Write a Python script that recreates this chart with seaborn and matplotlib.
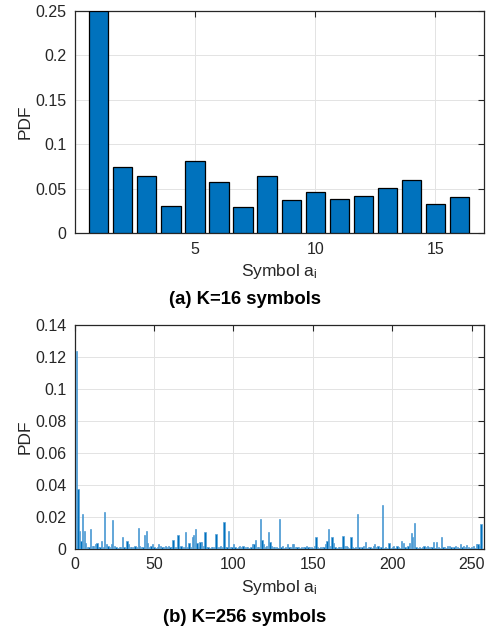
import numpy as np
import pandas as pd
import seaborn as sns
import matplotlib.pyplot as plt
from matplotlib.ticker import FuncFormatter

## data
sym16 = list(range(1, 17))
pdf16 = [0.25, 0.0741, 0.0644, 0.0303, 0.0808, 0.058, 0.0296, 0.064,
         0.0378, 0.0464, 0.0382, 0.0419, 0.0509, 0.0595, 0.0326, 0.0408]

sym256 = list(range(1, 257))
pdf256 = [
    0.124, 0.0375, 0.011, 0.005, 0.022, 0.011, 0.004, 0.001, 0.0015, 0.0125, 0.002, 0.002, 0.003, 0.004, 0.001, 0.0015,
    0.005, 0.001, 0.0233, 0.003, 0.002, 0.0015, 0.003, 0.0183, 0.002, 0.001, 0.0005, 0.001, 0.0015, 0.0073, 0.001, 0.0005,
    0.0048, 0.003, 0.001, 0.0015, 0.001, 0.002, 0.001, 0.0134, 0.002, 0.001, 0.0015, 0.0087, 0.0113, 0.004, 0.001, 0.002,
    0.003, 0.001, 0.0005, 0.001, 0.003, 0.002, 0.001, 0.0015, 0.002, 0.0015, 0.002, 0.001, 0.0015, 0.0058, 0.001, 0.0015,
    0.009, 0.001, 0.002, 0.0015, 0.001, 0.0108, 0.001, 0.004, 0.0015, 0.0077, 0.009, 0.0126, 0.004, 0.0015, 0.0045, 0.0045,
    0.002, 0.0104, 0.001, 0.001, 0.0005, 0.001, 0.0015, 0.001, 0.0092, 0.001, 0.0015, 0.002, 0.001, 0.0168, 0.001, 0.0015,
    0.011, 0.001, 0.0015, 0.003, 0.001, 0.0005, 0.001, 0.002, 0.001, 0.002, 0.001, 0.0015, 0.001, 0.0005, 0.001, 0.003,
    0.003, 0.0055, 0.001, 0.0015, 0.0185, 0.0056, 0.003, 0.0015, 0.002, 0.0106, 0.0046, 0.002, 0.001, 0.0015, 0.001, 0.0005,
    0.019, 0.001, 0.002, 0.0005, 0.001, 0.003, 0.001, 0.0015, 0.003, 0.003, 0.0015, 0.001, 0.001, 0.0005, 0.001, 0.001,
    0.001, 0.002, 0.001, 0.0015, 0.001, 0.0005, 0.002, 0.0077, 0.001, 0.0005, 0.001, 0.0015, 0.001, 0.003, 0.0052, 0.0123,
    0.002, 0.0077, 0.004, 0.001, 0.0005, 0.001, 0.0015, 0.001, 0.0079, 0.002, 0.002, 0.001, 0.0005, 0.0075, 0.001, 0.0005,
    0.001, 0.0219, 0.001, 0.0005, 0.001, 0.002, 0.0045, 0.0005, 0.001, 0.001, 0.0005, 0.002, 0.003, 0.001, 0.002, 0.0005,
    0.001, 0.0275, 0.0005, 0.001, 0.0005, 0.0035, 0.0005, 0.001, 0.002, 0.0005, 0.002, 0.001, 0.0005, 0.0048, 0.0035, 0.001,
    0.0005, 0.002, 0.004, 0.0098, 0.0077, 0.016, 0.001, 0.0005, 0.001, 0.0005, 0.001, 0.002, 0.0015, 0.002, 0.001, 0.0015,
    0.001, 0.0045, 0.0005, 0.0046, 0.001, 0.0005, 0.0077, 0.001, 0.001, 0.0005, 0.002, 0.002, 0.001, 0.0005, 0.0015, 0.002,
    0.001, 0.0005, 0.003, 0.001, 0.002, 0.001, 0.0025, 0.001, 0.0005, 0.001, 0.002, 0.0005, 0.003, 0.003, 0.002, 0.0156,
]

bar_color = '#0072BD'
txt_color = '#262626'

sns.set_theme(style='white')
plt.rcParams['font.family'] = ['Liberation Sans', 'DejaVu Sans']
plt.rcParams['mathtext.fontset'] = 'custom'
plt.rcParams['mathtext.rm'] = 'Liberation Sans'
plt.rcParams['mathtext.it'] = 'Liberation Sans'

fig = plt.figure(figsize=(4.9, 6.33), dpi=100)
W, H = 490, 633
ax1 = fig.add_axes([74.7 / W, 1 - 233.3 / H, (483.5 - 74.7) / W, (233.3 - 10.7) / H])
ax2 = fig.add_axes([74.7 / W, 1 - 549 / H, (483.5 - 74.7) / W, (549 - 325) / H])

df16 = pd.DataFrame({'symbol': sym16, 'pdf': pdf16})
df256 = pd.DataFrame({'symbol': sym256, 'pdf': pdf256})

sns.barplot(data=df16, x='symbol', y='pdf', native_scale=True, width=0.8,
            color=bar_color, saturation=1, edgecolor='black', linewidth=0.9, ax=ax1, zorder=3)
sns.barplot(data=df256, x='symbol', y='pdf', native_scale=True, width=0.8,
            color=bar_color, saturation=1, edgecolor='#5aa2d8', linewidth=0.5, ax=ax2, zorder=3)

fmt = FuncFormatter(lambda v, p: '%g' % round(v, 4))

ax1.set_xlim(0, 17)
ax1.set_ylim(0, 0.25)
ax1.set_xticks([5, 10, 15])
ax1.set_yticks([0, 0.05, 0.1, 0.15, 0.2, 0.25])

ax2.set_xlim(0, 257.5)
ax2.set_ylim(0, 0.14)
ax2.set_xticks([0, 50, 100, 150, 200, 250])
ax2.set_yticks(np.arange(0, 0.141, 0.02))

for ax in (ax1, ax2):
    ax.yaxis.set_major_formatter(fmt)
    ax.grid(True, color='#e3e3e3', linewidth=0.7, zorder=0)
    ax.set_axisbelow(True)
    for s in ax.spines.values():
        s.set_visible(True)
        s.set_color(txt_color)
        s.set_linewidth(0.9)
    ax.tick_params(direction='in', length=4, width=0.8, top=True, right=True,
                   labelsize=11.5, colors=txt_color, pad=6)
    ax.set_ylabel('PDF', fontsize=12.5, color=txt_color, labelpad=2)
    ax.set_xlabel('Symbol a$_\\mathregular{i}$', fontsize=12.5, color=txt_color, labelpad=4)

fig.text(0.5, 1 - 300 / H, '(a) K=16 symbols', ha='center', va='center',
         fontsize=13.3, fontweight='bold', color='black')
fig.text(0.5, 1 - 617 / H, '(b) K=256 symbols', ha='center', va='center',
         fontsize=13.3, fontweight='bold', color='black')

plt.savefig('out.png', dpi=100)
